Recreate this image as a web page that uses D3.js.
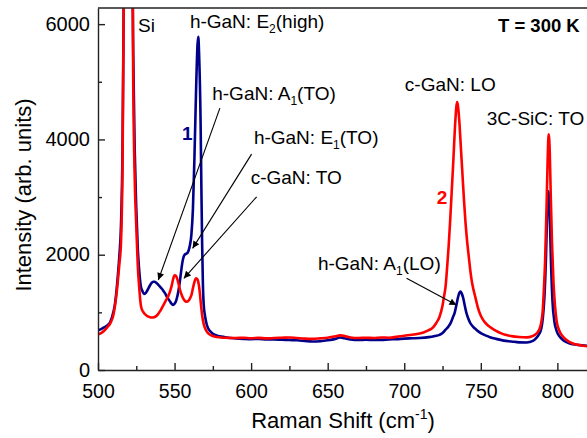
<!DOCTYPE html>
<html>
<head>
<meta charset="utf-8">
<script src="https://cdn.jsdelivr.net/npm/d3@7"></script>
<style>
  body { margin: 0; background: #fff; }
  svg { display: block; font-family: "Liberation Sans", Arial, sans-serif; }
</style>
</head>
<body>
<svg id="chart"></svg>
<script>
// Raman shift (cm^-1) and intensity for spectrum 1 (blue)
var shift1 = [500, 502, 504, 506, 508, 510, 511, 512, 513, 514, 515, 516, 517, 518, 519, 520, 521, 522, 523, 524,
  525, 526, 527, 528, 529, 530, 531, 532, 533, 534, 535, 536, 537, 538, 539, 540, 541, 542, 543, 544,
  545, 546, 547, 548, 549, 550, 551, 552, 553, 554, 555, 556, 557, 558, 559, 560, 561, 562, 563, 564,
  565, 565.5, 566, 567, 567.5, 568, 568.5, 569, 570, 571, 572, 573, 575, 578, 582, 585, 590, 595, 600, 605,
  610, 615, 620, 625, 630, 635, 640, 645, 650, 655, 658, 661, 665, 670, 675, 680, 685, 690, 695, 700,
  705, 710, 716, 720, 723, 725, 727, 729, 730, 731, 732, 733, 734, 735, 736, 736.7, 737.5, 738.5, 739.5, 740.5,
  742, 743, 745, 747, 750, 753, 756, 760, 765, 770, 775, 780, 784, 786, 788, 789.5, 790.5, 791.5, 792.5, 793.3,
  794.2, 795, 795.8, 796.8, 798, 799.5, 801.5, 804, 808, 814, 820];
var intensity1 = [690, 710, 740, 770, 830, 1000, 1130, 1350, 1650, 2000, 2500, 3800, 7000, 12500, 18500, 21000, 17000, 9000, 5500, 3800,
  2800, 2100, 1700, 1450, 1370, 1320, 1330, 1370, 1420, 1470, 1510, 1530, 1530, 1515, 1490, 1460, 1430, 1400, 1360, 1320,
  1270, 1230, 1190, 1150, 1130, 1150, 1200, 1300, 1450, 1650, 1850, 1970, 2010, 2020, 2060, 2160, 2350, 2800, 3700, 4800,
  5650, 5780, 5500, 4300, 3200, 2200, 1500, 1150, 920, 790, 720, 680, 630, 595, 575, 560, 548, 540, 535, 538,
  528, 530, 525, 520, 515, 505, 495, 500, 515, 540, 565, 550, 530, 520, 525, 520, 522, 530, 535, 545,
  550, 555, 570, 590, 610, 640, 700, 760, 800, 860, 930, 1000, 1120, 1250, 1340, 1360, 1330, 1250, 1120, 1000,
  880, 820, 750, 700, 640, 600, 570, 540, 510, 495, 480, 478, 505, 550, 620, 720, 900, 1250, 1900, 2700,
  3100, 2700, 1900, 1200, 850, 680, 580, 510, 460, 435, 420];

// Raman shift (cm^-1) and intensity for spectrum 2 (red)
var shift2 = [500, 502, 504, 506, 508, 510, 511, 512, 513, 514, 515, 516, 517, 518, 519, 520, 521, 522, 523, 524,
  525, 526, 527, 528, 529, 530, 531, 532, 533, 534, 535, 536, 537, 538, 539, 540, 541, 542, 543, 544,
  545, 546, 547, 548, 549, 550, 551, 552, 553, 554, 555, 556, 557, 558, 559, 560, 561, 562, 563, 564,
  565, 566, 567, 568, 569, 570, 571, 572, 574, 576, 580, 585, 590, 595, 600, 605, 610, 615, 620, 625,
  630, 635, 640, 645, 650, 655, 658, 661, 665, 670, 675, 680, 685, 690, 695, 700, 705, 710, 713, 716,
  719, 721, 723, 725, 726, 727, 728, 729, 730, 731, 732, 733, 734, 734.5, 735, 736, 737, 738, 739, 740,
  741, 742, 743, 744, 745, 746, 747, 748, 750, 752, 754, 756, 758, 760, 763, 766, 770, 775, 780, 783,
  785, 787, 788.5, 789.5, 790.5, 791, 792, 793, 793.7, 794.3, 795, 795.7, 796.5, 797.5, 798.5, 799.5, 801, 803, 806, 810,
  815, 820];
var intensity2 = [620, 640, 680, 740, 810, 950, 1100, 1300, 1560, 1850, 2200, 3500, 7000, 12500, 19000, 22000, 18000, 9500, 5000, 3300,
  2500, 1800, 1400, 1120, 1030, 990, 960, 940, 925, 915, 910, 912, 920, 935, 960, 1000, 1040, 1090, 1140, 1190,
  1240, 1290, 1360, 1450, 1570, 1645, 1630, 1560, 1450, 1350, 1280, 1225, 1195, 1185, 1200, 1240, 1300, 1420, 1530, 1590,
  1570, 1450, 1200, 950, 800, 720, 670, 635, 600, 580, 565, 558, 555, 560, 552, 558, 548, 555, 560, 565,
  555, 545, 540, 548, 560, 585, 600, 590, 565, 555, 560, 555, 565, 560, 575, 595, 610, 635, 655, 690,
  745, 820, 920, 1120, 1280, 1450, 1780, 2150, 2600, 3100, 3600, 4150, 4560, 4650, 4600, 4300, 3850, 3400, 2950, 2560,
  2250, 2000, 1760, 1560, 1420, 1310, 1200, 1090, 940, 850, 790, 745, 710, 680, 640, 610, 588, 572, 566, 580,
  605, 650, 720, 830, 1050, 1300, 1900, 2900, 3700, 4090, 3800, 3000, 2200, 1500, 1100, 850, 700, 600, 520, 460,
  430, 410];

// Axis ticks
var xMajorTicks = [500, 550, 600, 650, 700, 750, 800];
var xMinorTicks = [525, 575, 625, 675, 725, 775];
var yMajorTicks = [0, 2000, 4000, 6000];
var yMinorTicks = [1000, 3000, 5000];

var width = 587, height = 438;
var plot = { left: 98, right: 588, top: 8, bottom: 370 };

var svg = d3.select("#chart")
    .attr("width", width)
    .attr("height", height);

var x = d3.scaleLinear().domain([500, 820]).range([plot.left, plot.right]);
var y = d3.scaleLinear().domain([0, 6280]).range([plot.bottom, plot.top]);

svg.append("defs").append("clipPath")
    .attr("id", "plot-clip")
  .append("rect")
    .attr("x", plot.left)
    .attr("y", plot.top)
    .attr("width", plot.right - plot.left)
    .attr("height", plot.bottom - plot.top);

svg.select("defs").append("marker")
    .attr("id", "arrow")
    .attr("viewBox", "0 0 10 10")
    .attr("refX", 10)
    .attr("refY", 5)
    .attr("markerWidth", 9)
    .attr("markerHeight", 7)
    .attr("markerUnits", "userSpaceOnUse")
    .attr("orient", "auto")
  .append("path")
    .attr("d", "M0,0 L10,5 L0,10 Z")
    .attr("fill", "#000");

// Spectra, blue first so the red one sits on top
var line = d3.line()
    .x(function(d) { return x(d[0]); })
    .y(function(d) { return y(d[1]); })
    .curve(d3.curveMonotoneX);

var series = [
  { color: "#00008B", points: d3.zip(shift1, intensity1) },
  { color: "#FF0000", points: d3.zip(shift2, intensity2) }
];

svg.append("g")
    .attr("clip-path", "url(#plot-clip)")
  .selectAll("path")
  .data(series)
  .enter()
  .append("path")
    .attr("d", function(d) { return line(d.points); })
    .attr("fill", "none")
    .attr("stroke", function(d) { return d.color; })
    .attr("stroke-width", 2.6)
    .attr("stroke-linejoin", "round");

// Axes with inward ticks
function styleAxis(g, size) {
  g.selectAll("path, line").attr("stroke", "#222").attr("stroke-width", 1.4);
  g.selectAll("text").attr("font-size", size || 20).attr("fill", "#000")
    .attr("font-family", "Liberation Sans, Arial, sans-serif");
}

svg.append("g")
    .attr("transform", "translate(0," + plot.bottom + ")")
    .call(d3.axisBottom(x).tickValues(xMajorTicks).tickSize(-7).tickSizeOuter(0).tickPadding(14).tickFormat(d3.format("d")))
    .call(styleAxis, 19.5);

svg.append("g")
    .attr("transform", "translate(0," + plot.bottom + ")")
    .call(d3.axisBottom(x).tickValues(xMinorTicks).tickSize(-4).tickFormat(""))
    .call(styleAxis)
    .select(".domain").remove();

svg.append("g")
    .attr("transform", "translate(" + plot.left + ",0)")
    .call(d3.axisLeft(y).tickValues(yMajorTicks).tickSize(-7).tickSizeOuter(0).tickPadding(8).tickFormat(d3.format("d")))
    .call(styleAxis)
    .selectAll("text").attr("dy", "0.3em");

svg.append("g")
    .attr("transform", "translate(" + plot.left + ",0)")
    .call(d3.axisLeft(y).tickValues(yMinorTicks).tickSize(-4).tickFormat(""))
    .call(styleAxis)
    .select(".domain").remove();

// top frame line
svg.append("line")
    .attr("x1", plot.left).attr("x2", plot.right)
    .attr("y1", plot.top).attr("y2", plot.top)
    .attr("stroke", "#222")
    .attr("stroke-width", 1.4);

// Axis titles
var xTitle = svg.append("text")
    .attr("x", 343)
    .attr("y", 428)
    .attr("text-anchor", "middle")
    .attr("font-size", 22);
xTitle.append("tspan").text("Raman Shift (cm");
xTitle.append("tspan").attr("dy", -9).attr("font-size", 14).text("-1");
xTitle.append("tspan").attr("dy", 9).text(")");

svg.append("text")
    .attr("transform", "translate(31,195) rotate(-90)")
    .attr("text-anchor", "middle")
    .attr("font-size", 22)
    .text("Intensity (arb. units)");

// Peak labels: [base, subscript, rest], placed in data coordinates
function label(pos, parts, opts) {
  opts = opts || {};
  var t = svg.append("text")
      .attr("x", x(pos[0]))
      .attr("y", y(pos[1]))
      .attr("font-size", opts.size || 19)
      .attr("font-weight", opts.weight || "normal")
      .attr("fill", opts.color || "#000")
      .attr("text-anchor", opts.anchor || "start");
  t.append("tspan").text(parts[0]);
  if (parts[1]) {
    t.append("tspan").attr("dy", 5).attr("font-size", 12).text(parts[1]);
    t.append("tspan").attr("dy", -5).text(parts[2]);
  }
  return t;
}

label([526.1, 5861], ["Si"]);
label([560, 5930], ["h-GaN: E", "2", "(high)"]);
label([814.6, 5861], ["T = 300 K"], { weight: "bold", size: 18.5, anchor: "end" });
label([574.6, 4682], ["h-GaN: A", "1", "(TO)"]);
label([601.8, 3919], ["h-GaN: E", "1", "(TO)"]);
label([599.7, 3225], ["c-GaN: TO"]);
label([700.4, 4838], ["c-GaN: LO"]);
label([753.9, 4248], ["3C-SiC: TO"]);
label([643.6, 1734], ["h-GaN: A", "1", "(LO)"]);
label([554.8, 3988], ["1"], { weight: "bold", color: "#00008B", size: 19 });
label([721.3, 2878], ["2"], { weight: "bold", color: "#FF0000", size: 19 });

// Arrows from labels to peaks
var arrows = [
  [[579.6, 4543], [539.4, 1561]],
  [[600.3, 3745], [561.8, 2110]],
  [[603.6, 3005], [556.1, 1590]],
  [[701.5, 1590], [734.1, 1127]]
];

svg.append("g")
  .selectAll("line")
  .data(arrows)
  .enter()
  .append("line")
    .attr("x1", function(d) { return x(d[0][0]); })
    .attr("y1", function(d) { return y(d[0][1]); })
    .attr("x2", function(d) { return x(d[1][0]); })
    .attr("y2", function(d) { return y(d[1][1]); })
    .attr("stroke", "#000")
    .attr("stroke-width", 1.1)
    .attr("marker-end", "url(#arrow)");
</script>
</body>
</html>
